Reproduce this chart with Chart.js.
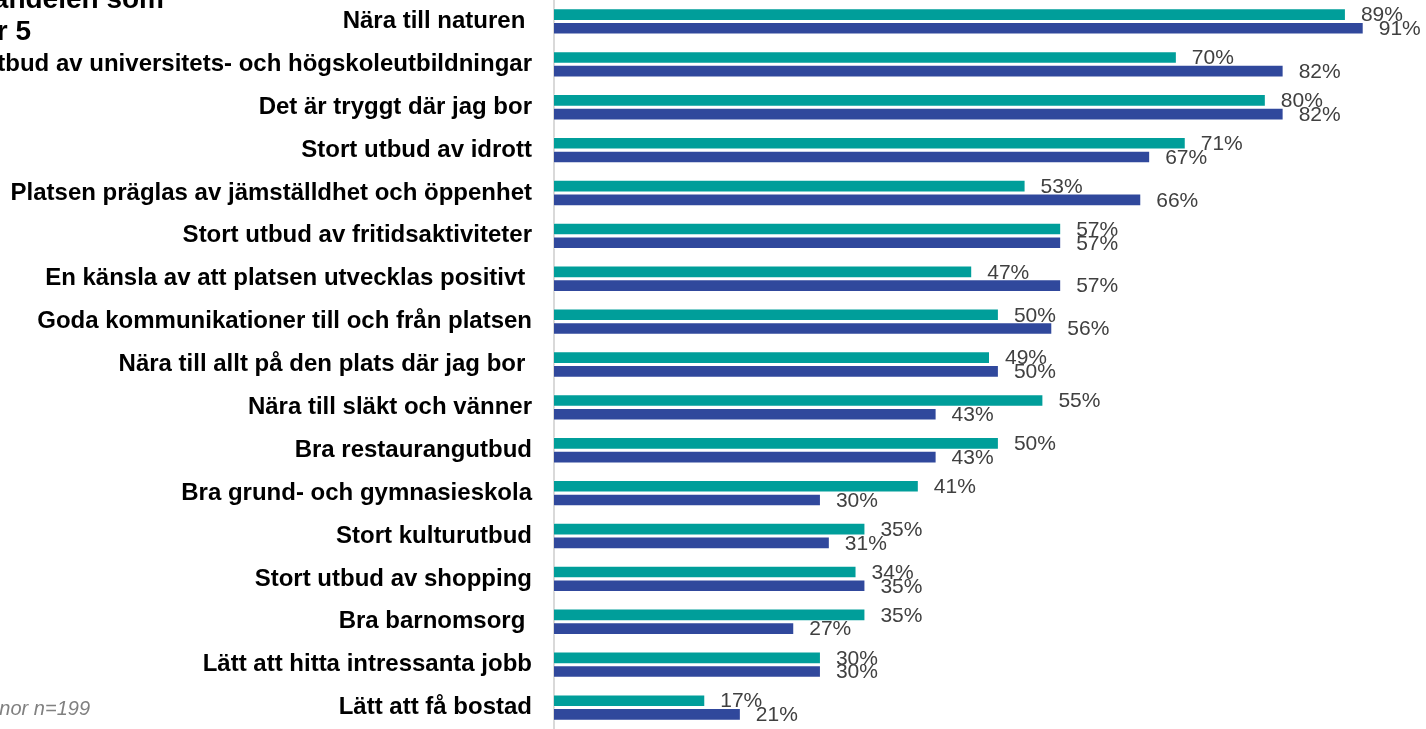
<!DOCTYPE html>
<html><head><meta charset="utf-8">
<script src="https://cdn.jsdelivr.net/npm/chart.js@4/dist/chart.umd.min.js"></script>
<style>html,body{margin:0;padding:0;background:#fff;overflow:hidden}#wrap{position:relative;width:1426px;height:729px}</style>
</head><body><div id="wrap"><canvas id="c" width="1426" height="729"></canvas></div>
<script>
const categories = [
  'Nära till naturen ',
  'Stort utbud av universitets- och högskoleutbildningar',
  'Det är tryggt där jag bor',
  'Stort utbud av idrott',
  'Platsen präglas av jämställdhet och öppenhet',
  'Stort utbud av fritidsaktiviteter',
  'En känsla av att platsen utvecklas positivt ',
  'Goda kommunikationer till och från platsen',
  'Nära till allt på den plats där jag bor ',
  'Nära till släkt och vänner',
  'Bra restaurangutbud',
  'Bra grund- och gymnasieskola',
  'Stort kulturutbud',
  'Stort utbud av shopping',
  'Bra barnomsorg ',
  'Lätt att hitta intressanta jobb',
  'Lätt att få bostad'
];
const seriesNames = ['Totalt', 'Kvinnor'];
const seriesTeal = [89, 70, 80, 71, 53, 57, 47, 50, 49, 55, 50, 41, 35, 34, 35, 30, 17];
const seriesBlue = [91, 82, 82, 67, 66, 57, 57, 56, 50, 43, 43, 30, 31, 35, 27, 30, 21];
const titleLines = ['Viktiga faktorer – andelen som', 'svarat 4 eller 5'];
const footnote = 'Kvinnor n=199';
const xMin = 0, xMax = 98;

const FONT = '"Liberation Sans", Arial, Helvetica, sans-serif';

const valueLabels = {
  id: 'valueLabels',
  afterDatasetsDraw(chart) {
    const ctx = chart.ctx;
    ctx.save();
    ctx.font = '21px ' + FONT;
    ctx.fillStyle = '#404040';
    ctx.textAlign = 'left';
    ctx.textBaseline = 'middle';
    chart.data.datasets.forEach((ds, i) => {
      chart.getDatasetMeta(i).data.forEach((bar, j) => {
        ctx.fillText(ds.data[j] + '%', bar.x + 15, bar.y + 1);
      });
    });
    ctx.restore();
  }
};

const extraText = {
  id: 'extraText',
  afterDraw(chart) {
    const ctx = chart.ctx;
    ctx.save();
    ctx.fillStyle = '#000000';
    ctx.textAlign = 'right';
    ctx.textBaseline = 'alphabetic';
    ctx.font = 'bold 28px ' + FONT;
    ctx.fillText(titleLines[0], 164, 8);
    ctx.fillText(titleLines[1], 31, 40);
    ctx.font = 'italic 20px ' + FONT;
    ctx.fillStyle = '#808080';
    ctx.fillText(footnote, 90, 715);
    ctx.restore();
  }
};

new Chart(document.getElementById('c'), {
  type: 'bar',
  data: {
    labels: categories,
    datasets: [
      { label: seriesNames[0], data: seriesTeal, backgroundColor: '#009E9A', borderColor: 'rgba(255,255,255,0.4)', borderWidth: 1 },
      { label: seriesNames[1], data: seriesBlue, backgroundColor: '#30489C', borderColor: 'rgba(255,255,255,0.4)', borderWidth: 1 }
    ]
  },
  options: {
    indexAxis: 'y',
    responsive: false,
    devicePixelRatio: 1,
    animation: false,
    categoryPercentage: 0.64,
    barPercentage: 0.92,
    layout: { padding: 0 },
    plugins: { legend: { display: false }, tooltip: { enabled: false }, title: { display: false } },
    scales: {
      x: { display: false, min: xMin, max: xMax },
      y: {
        afterFit(scale) { scale.width = 554; scale.paddingTop = 0; scale.paddingBottom = 0; },
        grid: { display: false, drawTicks: false, tickLength: 0 },
        border: { display: true, color: '#d9d9d9', width: 2 },
        ticks: { color: '#000000', font: { family: FONT, size: 24, weight: 'bold' }, padding: 22, autoSkip: false }
      }
    }
  },
  plugins: [valueLabels, extraText]
});
</script>
</body></html>
